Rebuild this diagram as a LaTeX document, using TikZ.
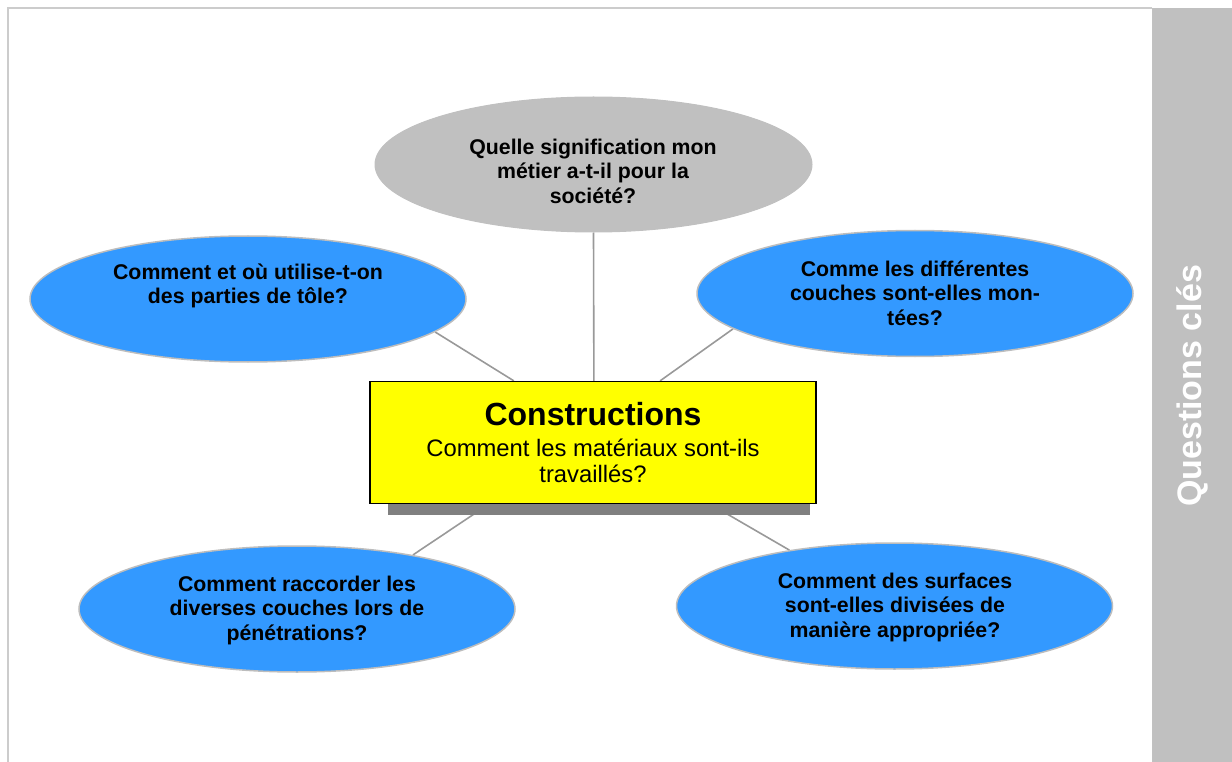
\documentclass[tikz,border=0pt]{standalone}
\usepackage{fontspec}
\setmainfont{Liberation Sans}
\usetikzlibrary{shapes.geometric,calc,backgrounds}
\definecolor{qblue}{HTML}{3399FF}
\definecolor{qgray}{HTML}{C0C0C0}
\definecolor{qline}{HTML}{999999}
\definecolor{qborder}{HTML}{BDBDBD}
\definecolor{qframe}{HTML}{CCCCCC}
\definecolor{qshadow}{HTML}{808080}
\definecolor{qyellow}{HTML}{FFFF00}
\tikzset{
  bubble/.style={ellipse, minimum width=436pt, minimum height=126pt, inner sep=0pt, fill=qblue, draw=qborder, line width=1.5pt},
  graybubble/.style={ellipse, minimum width=437pt, minimum height=135pt, inner sep=0pt, fill=qgray, draw=qgray, line width=1pt},
  qtext/.style={align=center, font=\bfseries\fontsize{21.3}{24.5}\selectfont},
  link/.style={draw=qline, line width=1.6pt},
  mainbox/.style={rectangle, fill=qyellow, draw=black, line width=1.3pt, minimum width=446pt, minimum height=122pt, inner sep=0pt, align=center, font=\fontsize{23.8}{26}\selectfont}
}
\begin{document}
\begin{tikzpicture}[x=1pt,y=-1pt]
\useasboundingbox (0,0) rectangle (1232,762);
% frame and side bar
\coordinate (fb) at (8,762);
\coordinate (ft) at (8,8);
\coordinate (fr) at (1152,8);
\draw[qframe, line width=2pt] (fb) -- (ft) -- (fr);
\fill[qgray] (1152,8) rectangle (1232,762);
\draw[qborder!80!black!60, line width=1pt] (1152,8) -- (1152,762);
\node[rotate=90, text=white, font=\bfseries\fontsize{34}{36}\selectfont] (side) at (1192,386) {Questions clés};

% central box
\node[mainbox] (ctr) at (593,442.5) {{\fontsize{32}{33}\selectfont\bfseries Constructions}\\[5pt]Comment les matériaux sont-ils\\travaillés?};

% ellipses
\node[graybubble] (top) at (593.5,164.5) {};
\node[qtext] (toptx) at (593,171) {Quelle signification mon\\métier a-t-il pour la\\société?};
\node[bubble] (lu) at (248,299) {};
\node[qtext] (lutx) at (248,286) {Comment et où utilise-t-on\\des parties de tôle?};
\node[bubble] (ru) at (915,293.5) {};
\node[qtext] (rutx) at (915,293) {Comme les différentes\\couches sont-elles mon-\\tées?};
\node[bubble] (bl) at (297,609) {};
\node[qtext] (bltx) at (297,610) {Comment raccorder les\\diverses couches lors de\\pénétrations?};
\node[bubble] (br) at (894.5,606) {};
\node[qtext] (brtx) at (895,607) {Comment des surfaces\\sont-elles divisées de\\manière appropriée?};

\begin{scope}[on background layer]
  \draw[link] (top.south) -- ($(ctr.north west)!0.502!(ctr.north east)$);
  \draw[link] (lu.-10) -- ($(ctr.north west)!0.323!(ctr.north east)$);
  \draw[link] (ru.-169) -- ($(ctr.north west)!0.650!(ctr.north east)$);
  \draw[link] (bl.25) -- ($(ctr.south west)!0.267!(ctr.south east)$);
  \draw[link] (br.152) -- ($(ctr.south west)!0.762!(ctr.south east)$);
  \fill[qshadow] ($(ctr.north west)+(19,11)$) rectangle ($(ctr.south east)+(-7,11)$);
\end{scope}
\end{tikzpicture}
\end{document}
